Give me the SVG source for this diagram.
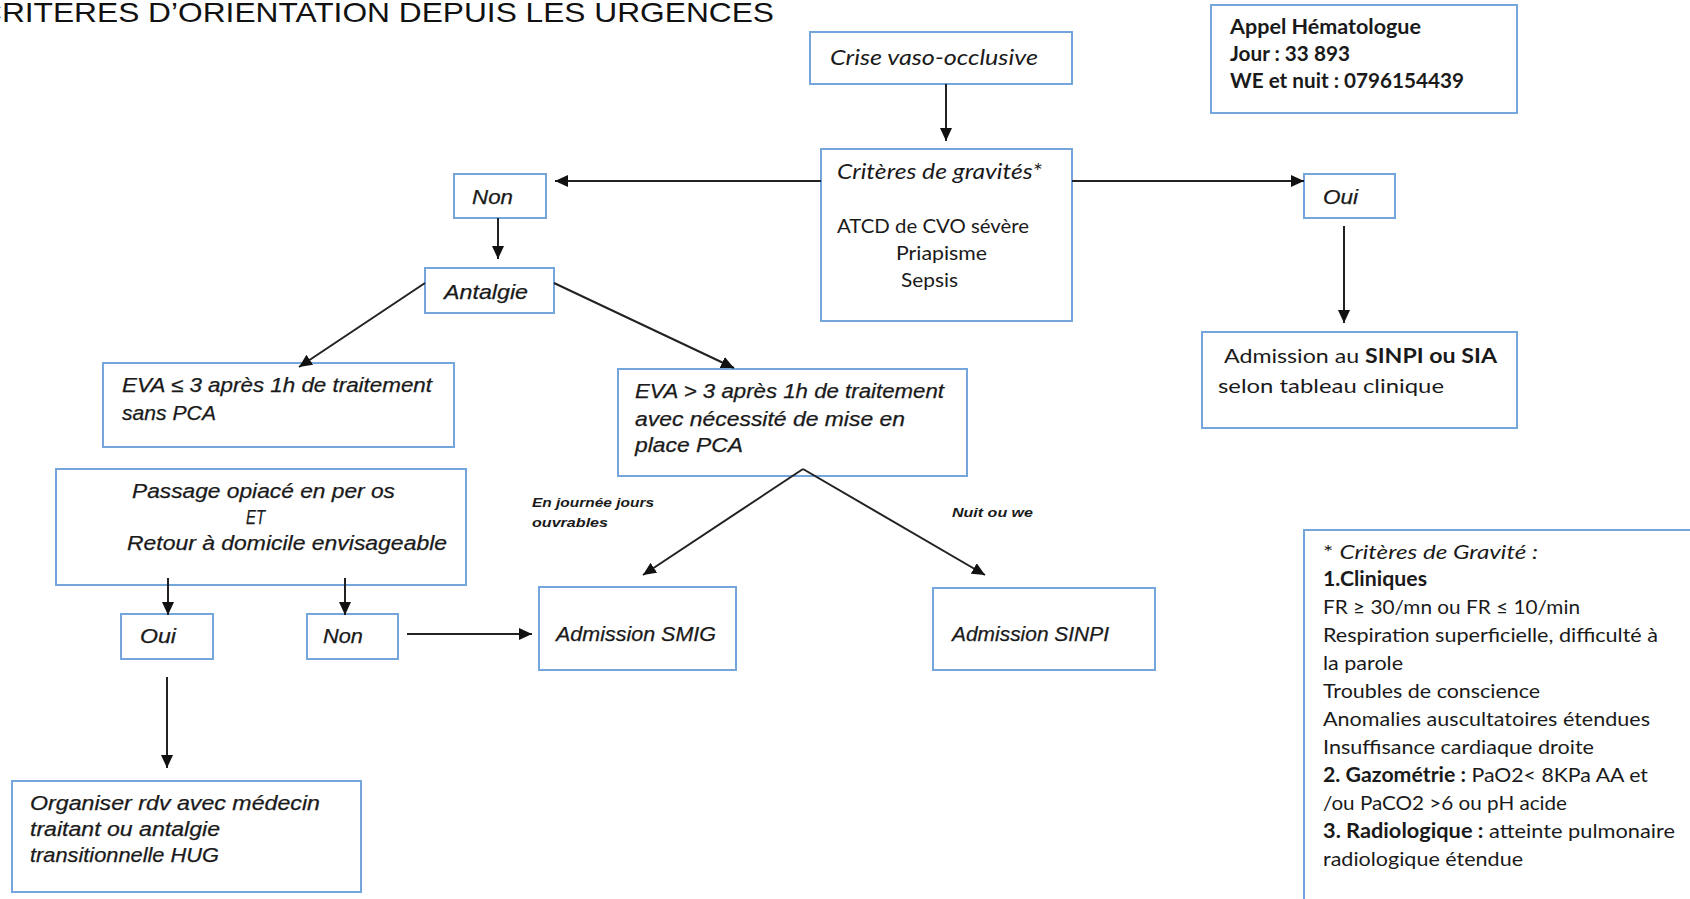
<svg xmlns="http://www.w3.org/2000/svg" width="1690" height="899" viewBox="0 0 1690 899">
<defs>
<marker id="arr" markerUnits="userSpaceOnUse" markerWidth="14" markerHeight="12" refX="13" refY="6" orient="auto">
<path d="M0,0 L13,6 L0,12 z" fill="#111"/>
</marker>
<style>
.box{fill:#fff;stroke:#74a5db;stroke-width:2}
.cg{font-family:"Liberation Sans",Arial,sans-serif;font-style:italic;font-size:20px;fill:#1a1a1a;stroke:#1a1a1a;stroke-width:0.25}
.cb{font-family:Lato,"Open Sans",sans-serif;font-size:20px;fill:#1a1a1a}
.cbi{font-family:Lato,"Open Sans",sans-serif;font-size:21px;font-style:italic;fill:#1a1a1a}
.sm{font-family:"Liberation Sans",Arial,sans-serif;font-style:italic;font-weight:bold;font-size:13px;fill:#1a1a1a}
.b{font-weight:bold}
.ln{fill:none;stroke:#222;stroke-width:2;marker-end:url(#arr)}
</style>
</defs>
<rect width="1690" height="899" fill="#fff"/>
<text x="-21" y="22" font-family="'Liberation Sans',Arial,sans-serif" font-size="28" fill="#111" textLength="795" lengthAdjust="spacingAndGlyphs">CRITERES D’ORIENTATION DEPUIS LES URGENCES</text>

<g id="crise">
<rect class="box" x="810" y="32" width="262" height="52"/>
<text class="cbi" x="830" y="65" textLength="208" lengthAdjust="spacingAndGlyphs">Crise vaso-occlusive</text>
</g>

<g id="appel">
<rect class="box" x="1211" y="5" width="306" height="108"/>
<text class="cb b" x="1230" y="34" textLength="191" lengthAdjust="spacingAndGlyphs">Appel Hématologue</text>
<text class="cb b" x="1230" y="61" textLength="120" lengthAdjust="spacingAndGlyphs">Jour : 33 893</text>
<text class="cb b" x="1230" y="88" textLength="234" lengthAdjust="spacingAndGlyphs">WE et nuit : 0796154439</text>
</g>

<g id="criteres">
<rect class="box" x="821" y="149" width="251" height="172"/>
<text class="cbi" x="837" y="179" textLength="205" lengthAdjust="spacingAndGlyphs">Critères de gravités*</text>
<text class="cb" x="837" y="233" textLength="192" lengthAdjust="spacingAndGlyphs">ATCD de CVO sévère</text>
<text class="cb" x="896" y="260" textLength="91" lengthAdjust="spacingAndGlyphs">Priapisme</text>
<text class="cb" x="901" y="287" textLength="57" lengthAdjust="spacingAndGlyphs">Sepsis</text>
</g>

<g id="non-top">
<rect class="box" x="454" y="174" width="92" height="44"/>
<text class="cg" x="472" y="204" textLength="41" lengthAdjust="spacingAndGlyphs">Non</text>
</g>

<g id="oui-top">
<rect class="box" x="1304" y="174" width="91" height="44"/>
<text class="cg" x="1323" y="204" textLength="35" lengthAdjust="spacingAndGlyphs">Oui</text>
</g>

<g id="antalgie">
<rect class="box" x="425" y="268" width="129" height="45"/>
<text class="cg" x="444" y="299" textLength="84" lengthAdjust="spacingAndGlyphs">Antalgie</text>
</g>

<g id="eva-le3">
<rect class="box" x="103" y="363" width="351" height="84"/>
<text class="cg" x="122" y="392" textLength="310" lengthAdjust="spacingAndGlyphs">EVA ≤ 3 après 1h de traitement</text>
<text class="cg" x="122" y="420" textLength="94" lengthAdjust="spacingAndGlyphs">sans PCA</text>
</g>

<g id="eva-gt3">
<rect class="box" x="618" y="369" width="349" height="107"/>
<text class="cg" x="635" y="398" textLength="309" lengthAdjust="spacingAndGlyphs">EVA &gt; 3 après 1h de traitement</text>
<text class="cg" x="635" y="426" textLength="270" lengthAdjust="spacingAndGlyphs">avec nécessité de mise en</text>
<text class="cg" x="635" y="452" textLength="108" lengthAdjust="spacingAndGlyphs">place PCA</text>
</g>

<g id="admission-sinpi-sia">
<rect class="box" x="1202" y="332" width="315" height="96"/>
<text class="cb" x="1224" y="363" textLength="273" lengthAdjust="spacingAndGlyphs">Admission au <tspan class="b">SINPI ou SIA</tspan></text>
<text class="cb" x="1218" y="393" textLength="226" lengthAdjust="spacingAndGlyphs">selon tableau clinique</text>
</g>

<g id="passage">
<rect class="box" x="56" y="469" width="410" height="116"/>
<text class="cg" x="132" y="498" textLength="263" lengthAdjust="spacingAndGlyphs">Passage opiacé en per os</text>
<text class="cg" x="246" y="524" textLength="19" lengthAdjust="spacingAndGlyphs">ET</text>
<text class="cg" x="127" y="550" textLength="320" lengthAdjust="spacingAndGlyphs">Retour à domicile envisageable</text>
</g>

<g id="oui-bottom">
<rect class="box" x="121" y="614" width="92" height="45"/>
<text class="cg" x="140" y="643" textLength="36" lengthAdjust="spacingAndGlyphs">Oui</text>
</g>

<g id="non-bottom">
<rect class="box" x="307" y="614" width="91" height="45"/>
<text class="cg" x="323" y="643" textLength="40" lengthAdjust="spacingAndGlyphs">Non</text>
</g>

<g id="smig">
<rect class="box" x="539" y="587" width="197" height="83"/>
<text class="cg" x="556" y="641" textLength="160" lengthAdjust="spacingAndGlyphs">Admission SMIG</text>
</g>

<g id="sinpi">
<rect class="box" x="933" y="588" width="222" height="82"/>
<text class="cg" x="952" y="641" textLength="157" lengthAdjust="spacingAndGlyphs">Admission SINPI</text>
</g>

<g id="organiser">
<rect class="box" x="12" y="781" width="349" height="111"/>
<text class="cg" x="30" y="810" textLength="290" lengthAdjust="spacingAndGlyphs">Organiser rdv avec médecin</text>
<text class="cg" x="30" y="836" textLength="190" lengthAdjust="spacingAndGlyphs">traitant ou antalgie</text>
<text class="cg" x="30" y="862" textLength="189" lengthAdjust="spacingAndGlyphs">transitionnelle HUG</text>
</g>

<g id="labels">
<text class="sm" x="532" y="507" textLength="122" lengthAdjust="spacingAndGlyphs">En journée jours</text>
<text class="sm" x="532" y="527" textLength="76" lengthAdjust="spacingAndGlyphs">ouvrables</text>
<text class="sm" x="952" y="517" textLength="81" lengthAdjust="spacingAndGlyphs">Nuit ou we</text>
</g>

<g id="gravite-legend">
<rect class="box" x="1304" y="530" width="420" height="420"/>
<text class="cb" x="1323" y="559" textLength="215" lengthAdjust="spacingAndGlyphs">* <tspan font-style="italic">Critères de Gravité :</tspan></text>
<text class="cb b" x="1323" y="586" textLength="104" lengthAdjust="spacingAndGlyphs">1.Cliniques</text>
<text class="cb" x="1323" y="614" textLength="257" lengthAdjust="spacingAndGlyphs">FR ≥ 30/mn ou FR ≤ 10/min</text>
<text class="cb" x="1323" y="642" textLength="335" lengthAdjust="spacingAndGlyphs">Respiration superficielle, difficulté à</text>
<text class="cb" x="1323" y="670" textLength="80" lengthAdjust="spacingAndGlyphs">la parole</text>
<text class="cb" x="1323" y="698" textLength="217" lengthAdjust="spacingAndGlyphs">Troubles de conscience</text>
<text class="cb" x="1323" y="726" textLength="327" lengthAdjust="spacingAndGlyphs">Anomalies auscultatoires étendues</text>
<text class="cb" x="1323" y="754" textLength="271" lengthAdjust="spacingAndGlyphs">Insuffisance cardiaque droite</text>
<text class="cb" x="1323" y="782" textLength="325" lengthAdjust="spacingAndGlyphs"><tspan class="b">2. Gazométrie :</tspan> PaO2&lt; 8KPa AA  et</text>
<text class="cb" x="1323" y="810" textLength="244" lengthAdjust="spacingAndGlyphs">/ou PaCO2 &gt;6 ou pH acide</text>
<text class="cb" x="1323" y="838" textLength="352" lengthAdjust="spacingAndGlyphs"><tspan class="b">3. Radiologique :</tspan> atteinte pulmonaire</text>
<text class="cb" x="1323" y="866" textLength="200" lengthAdjust="spacingAndGlyphs">radiologique étendue</text>
</g>

<g id="connectors">
<line class="ln" x1="946" y1="84" x2="946" y2="141"/>
<line class="ln" x1="821" y1="181" x2="555" y2="181"/>
<line class="ln" x1="1072" y1="181" x2="1304" y2="181"/>
<line class="ln" x1="498" y1="218" x2="498" y2="259"/>
<line class="ln" x1="1344" y1="226" x2="1344" y2="323"/>
<line class="ln" x1="425" y1="283" x2="299" y2="367"/>
<line class="ln" x1="554" y1="283" x2="734" y2="368"/>
<line class="ln" x1="803" y1="469" x2="643" y2="575"/>
<line class="ln" x1="803" y1="469" x2="985" y2="575"/>
<line class="ln" x1="168" y1="578" x2="168" y2="615"/>
<line class="ln" x1="345" y1="578" x2="345" y2="615"/>
<line class="ln" x1="407" y1="634" x2="532" y2="634"/>
<line class="ln" x1="167" y1="677" x2="167" y2="768"/>
</g>
</svg>
